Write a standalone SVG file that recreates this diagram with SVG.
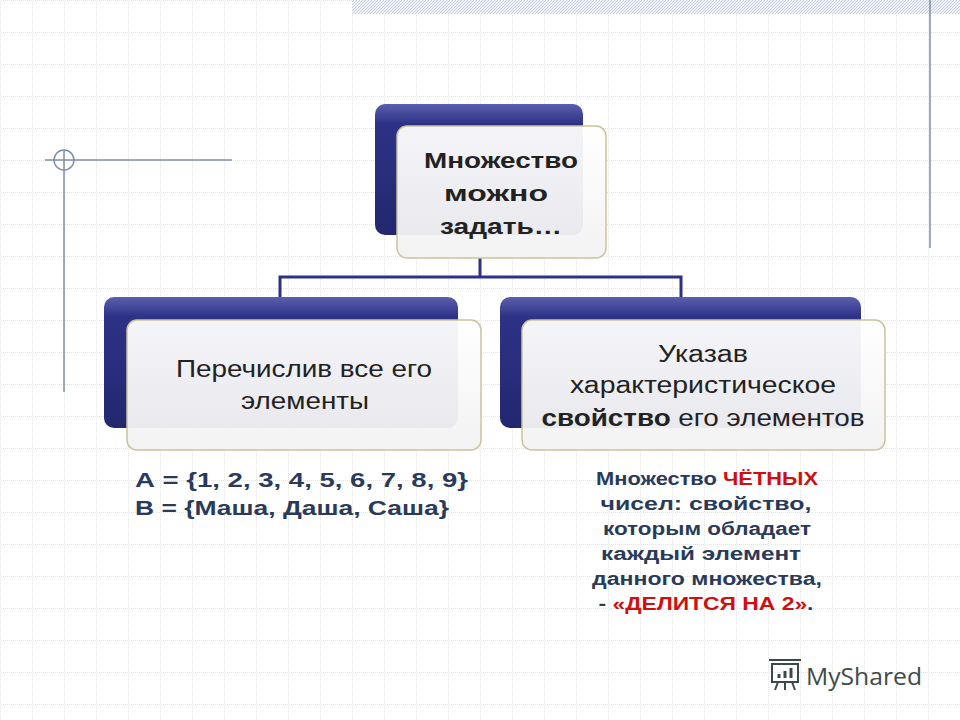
<svg xmlns="http://www.w3.org/2000/svg" width="960" height="720" viewBox="0 0 960 720">
<defs>
<pattern id="grid" x="1" y="1" width="32" height="32" patternUnits="userSpaceOnUse">
<path d="M32 0V32M0 32H32" fill="none" stroke="#c8c8c8" stroke-width="1" stroke-dasharray="1,1"/>
</pattern>
<pattern id="hatch" width="3" height="3" patternUnits="userSpaceOnUse">
<rect width="3" height="3" fill="#eef2f6"/><path d="M0 3L3 0" stroke="#c5d0dc" stroke-width="1"/>
</pattern>
<linearGradient id="navy" x1="0" y1="0" x2="0" y2="1">
<stop offset="0" stop-color="#5a5fae"/><stop offset="0.15" stop-color="#2e3286"/><stop offset="1" stop-color="#23276f"/>
</linearGradient>
<linearGradient id="white" x1="0" y1="0" x2="0" y2="1">
<stop offset="0" stop-color="#ffffff"/><stop offset="1" stop-color="#f2f2f2"/>
</linearGradient>
<style>
.back{fill:url(#navy);}
.front{fill:url(#white);fill-opacity:0.95;stroke:#c9c39a;stroke-width:1.5;}
.t{font-family:"Liberation Sans",Arial,sans-serif;fill:#222;text-anchor:middle;}
.b{font-family:"Liberation Sans",Arial,sans-serif;font-weight:bold;fill:#2a3a5a;}
.r{fill:#d01010;}
</style>
</defs>
<rect width="960" height="720" fill="#fff"/>
<rect width="960" height="720" fill="url(#grid)"/>
<rect x="352" y="0" width="608" height="14" fill="url(#hatch)"/>
<line x1="930" y1="0" x2="930" y2="248" stroke="#7f8ea8" stroke-width="1.5"/>
<g stroke="#7f8ea8" stroke-width="1.5" fill="none">
<circle cx="64" cy="160" r="10"/>
<line x1="45" y1="160" x2="232" y2="160"/>
<line x1="64" y1="150" x2="64" y2="392"/>
</g>
<g id="connectors" stroke="#2e3286" stroke-width="3" fill="none">
<path d="M480 258V277M280 297V277H681V297"/>
</g>
<g id="top">
<rect class="back" x="375" y="104" width="208" height="131" rx="10"/>
<rect class="front" x="397" y="126" width="209" height="132" rx="10"/>
<g class="t" font-size="22" font-weight="bold" lengthAdjust="spacingAndGlyphs">
<text x="501" y="168" textLength="154" lengthAdjust="spacingAndGlyphs">Множество</text>
<text x="496" y="201" textLength="104" lengthAdjust="spacingAndGlyphs">можно</text>
<text x="501" y="234" textLength="122" lengthAdjust="spacingAndGlyphs">задать…</text>
</g>
</g>
<g id="left">
<rect class="back" x="104" y="297" width="354" height="131" rx="10"/>
<rect class="front" x="127" y="320" width="354" height="130" rx="10"/>
<g class="t" font-size="23">
<text x="304" y="377" textLength="256" lengthAdjust="spacingAndGlyphs">Перечислив все его</text>
<text x="305" y="409" textLength="128" lengthAdjust="spacingAndGlyphs">элементы</text>
</g>
</g>
<g id="right">
<rect class="back" x="500" y="297" width="361" height="131" rx="10"/>
<rect class="front" x="522" y="320" width="363" height="130" rx="10"/>
<g class="t" font-size="23">
<text x="703" y="362" textLength="90" lengthAdjust="spacingAndGlyphs">Указав</text>
<text x="703" y="393" textLength="266" lengthAdjust="spacingAndGlyphs">характеристическое</text>
<text x="703" y="426" textLength="323" lengthAdjust="spacingAndGlyphs"><tspan font-weight="bold">свойство</tspan> его элементов</text>
</g>
</g>
<g id="notes">
<text class="b" font-size="20" x="135" y="487" textLength="333" lengthAdjust="spacingAndGlyphs">А = {1, 2, 3, 4, 5, 6, 7, 8, 9}</text>
<text class="b" font-size="20" x="135" y="515" textLength="314" lengthAdjust="spacingAndGlyphs">В = {Маша, Даша, Саша}</text>
<g class="b" font-size="18" text-anchor="middle">
<text x="707" y="485" textLength="222" lengthAdjust="spacingAndGlyphs">Множество <tspan class="r">ЧЁТНЫХ</tspan></text>
<text x="706" y="510" textLength="211" lengthAdjust="spacingAndGlyphs">чисел: свойство,</text>
<text x="707" y="535" textLength="208" lengthAdjust="spacingAndGlyphs">которым обладает</text>
<text x="701" y="560" textLength="200" lengthAdjust="spacingAndGlyphs">каждый элемент</text>
<text x="707" y="585" textLength="230" lengthAdjust="spacingAndGlyphs">данного множества,</text>
<text x="706" y="610" textLength="215" lengthAdjust="spacingAndGlyphs">- <tspan class="r">«ДЕЛИТСЯ НА 2»</tspan>.</text>
</g>
</g>
<g id="logo" fill="none" stroke="#3a4a4a" stroke-width="2">
<rect x="772" y="664" width="26" height="18"/>
<path d="M769 660h32M778 682l-3 8M785 682v8M792 682l3 8"/>
<path d="M779 678v-4M785 678v-7M791 678v-10" stroke-width="3"/>
</g>
<text x="806" y="685" font-family="'Open Sans',sans-serif" font-size="23" fill="#3f4a4a" textLength="116" lengthAdjust="spacingAndGlyphs">MyShared</text>
</svg>
